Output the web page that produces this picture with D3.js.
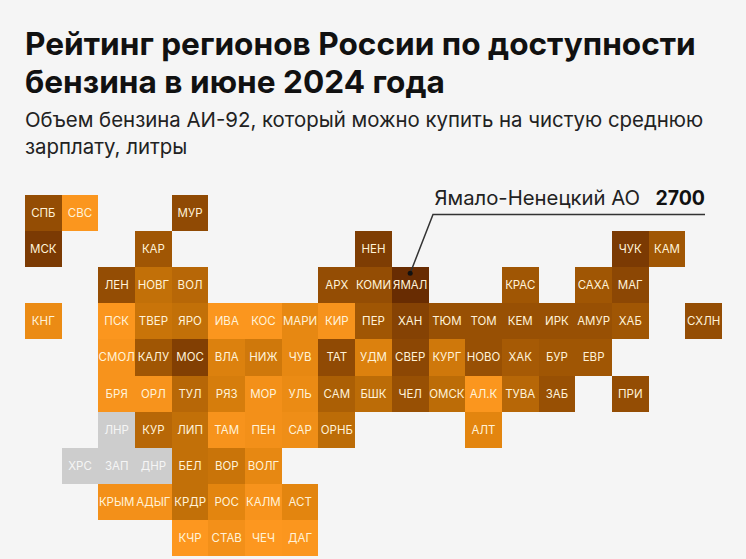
<!DOCTYPE html>
<html>
<head>
<meta charset="utf-8">
<script src="https://cdn.jsdelivr.net/npm/d3@7"></script>
<style>
  html, body { margin: 0; padding: 0; background: #f5f5f5; }
  svg { display: block; font-family: Inter, Roboto, sans-serif; }
</style>
</head>
<body>
<div id="chart"></div>
<script>
// grid rows, top to bottom: region code, grid column, litres (null = no data)
const row0 = ['СПБ', 'СВС', 'МУР'];
const row0Cols = [0, 1, 4];
const row0Vals = [2000, 1000, 2050];

const row1 = ['МСК', 'КАР', 'НЕН', 'ЧУК', 'КАМ'];
const row1Cols = [0, 3, 9, 16, 17];
const row1Vals = [2350, 1850, 2300, 2350, 1850];

const row2 = ['ЛЕН', 'НОВГ', 'ВОЛ', 'АРХ', 'КОМИ', 'ЯМАЛ', 'КРАС', 'САХА', 'МАГ'];
const row2Cols = [2, 3, 4, 8, 9, 10, 13, 15, 16];
const row2Vals = [2000, 1550, 1650, 2000, 2000, 2700, 1850, 1850, 2100];

const row3 = ['КНГ', 'ПСК', 'ТВЕР', 'ЯРО', 'ИВА', 'КОС', 'МАРИ', 'КИР', 'ПЕР', 'ХАН', 'ТЮМ', 'ТОМ', 'КЕМ', 'ИРК', 'АМУР', 'ХАБ', 'СХЛН'];
const row3Cols = [0, 2, 3, 4, 5, 6, 7, 8, 9, 10, 11, 12, 13, 14, 15, 16, 18];
const row3Vals = [1200, 1000, 1500, 1550, 1000, 1000, 1250, 1050, 1850, 2200, 1950, 1950, 1950, 1950, 1950, 1850, 2000];

const row4 = ['СМОЛ', 'КАЛУ', 'МОС', 'ВЛА', 'НИЖ', 'ЧУВ', 'ТАТ', 'УДМ', 'СВЕР', 'КУРГ', 'НОВО', 'ХАК', 'БУР', 'ЕВР'];
const row4Cols = [2, 3, 4, 5, 6, 7, 8, 9, 10, 11, 12, 13, 14, 15];
const row4Vals = [1050, 1850, 2250, 1350, 1450, 1250, 2050, 1350, 2100, 1450, 1950, 1800, 1850, 1850];

const row5 = ['БРЯ', 'ОРЛ', 'ТУЛ', 'РЯЗ', 'МОР', 'УЛЬ', 'САМ', 'БШК', 'ЧЕЛ', 'ОМСК', 'АЛ.К', 'ТУВА', 'ЗАБ', 'ПРИ'];
const row5Cols = [2, 3, 4, 5, 6, 7, 8, 9, 10, 11, 12, 13, 14, 16];
const row5Vals = [1050, 1050, 1650, 1400, 1100, 1200, 1750, 1600, 1950, 1600, 1000, 1650, 1950, 2000];

const row6 = ['ЛНР', 'КУР', 'ЛИП', 'ТАМ', 'ПЕН', 'САР', 'ОРНБ', 'АЛТ'];
const row6Cols = [2, 3, 4, 5, 6, 7, 8, 12];
const row6Vals = [null, 1650, 1550, 1050, 1100, 1150, 1600, 1300];

const row7 = ['ХРС', 'ЗАП', 'ДНР', 'БЕЛ', 'ВОР', 'ВОЛГ'];
const row7Cols = [1, 2, 3, 4, 5, 6];
const row7Vals = [null, null, null, 1550, 1500, 1250];

const row8 = ['КРЫМ', 'АДЫГ', 'КРДР', 'РОС', 'КАЛМ', 'АСТ'];
const row8Cols = [2, 3, 4, 5, 6, 7];
const row8Vals = [1100, 1100, 1550, 1300, 1050, 1300];

const row9 = ['КЧР', 'СТАВ', 'ЧЕЧ', 'ДАГ'];
const row9Cols = [4, 5, 6, 7];
const row9Vals = [980, 1100, 980, 1000];

const titleLines = ['Рейтинг регионов России по доступности', 'бензина в июне 2024 года'];
const subtitleLines = ['Объем бензина АИ-92, который можно купить на чистую среднюю', 'зарплату, литры'];
const calloutRegion = 'ЯМАЛ';
const calloutName = 'Ямало-Ненецкий АО';
const calloutValue = '2700';

const rows = [
  [row0, row0Cols, row0Vals], [row1, row1Cols, row1Vals], [row2, row2Cols, row2Vals],
  [row3, row3Cols, row3Vals], [row4, row4Cols, row4Vals], [row5, row5Cols, row5Vals],
  [row6, row6Cols, row6Vals], [row7, row7Cols, row7Vals], [row8, row8Cols, row8Vals],
  [row9, row9Cols, row9Vals]
];
const cells = rows.flatMap((r, i) => r[0].map((code, j) => ({
  code: code, col: r[1][j], row: i, value: r[2][j]
})));

const width = 746, height = 559;

const x = d3.scaleBand().domain(d3.range(19)).range([25, 722]).padding(0);
const y = d3.scaleBand().domain(d3.range(10)).range([195, 556]).padding(0);

const color = d3.scaleLinear()
    .domain([1000, 1300, 1550, 1850, 2100, 2350, 2700])
    .range(['#fb961e', '#e3850f', '#c27008', '#a05604', '#8c4704', '#7b3a03', '#682c02']);

const svg = d3.select('#chart').append('svg')
    .attr('width', width)
    .attr('height', height);

svg.append('rect')
    .attr('width', width)
    .attr('height', height)
    .attr('fill', '#f5f5f5');

// Title block
svg.selectAll('.title')
    .data(titleLines)
    .enter().append('text')
    .attr('class', 'title')
    .attr('x', 25)
    .attr('y', (d, i) => 55 + i * 37.5)
    .attr('font-size', 31.6)
    .attr('font-weight', 700)
    .attr('fill', '#111')
    .text(d => d);

svg.selectAll('.subtitle')
    .data(subtitleLines)
    .enter().append('text')
    .attr('class', 'subtitle')
    .attr('x', 25)
    .attr('y', (d, i) => 127 + i * 27)
    .attr('font-size', 20.4)
    .attr('fill', '#222')
    .text(d => d);

// Tile grid
svg.selectAll('.cell')
    .data(cells)
    .enter().append('rect')
    .attr('class', 'cell')
    .attr('x', d => x(d.col))
    .attr('y', d => y(d.row))
    .attr('width', x.bandwidth())
    .attr('height', y.bandwidth())
    .attr('shape-rendering', 'crispEdges')
    .attr('fill', d => d.value === null ? '#cdcdcd' : color(d.value));

svg.selectAll('.code')
    .data(cells)
    .enter().append('text')
    .attr('class', 'code')
    .attr('x', d => x(d.col) + x.bandwidth() / 2)
    .attr('y', d => y(d.row) + y.bandwidth() / 2 + 4)
    .attr('text-anchor', 'middle')
    .attr('font-size', 11.5)
    .attr('fill', d => d.value === null ? '#f5f5f5' : '#fff2d8')
    .text(d => d.code);

// Callout
const target = cells.find(d => d.code === calloutRegion);
const dotX = x(target.col) + x.bandwidth() / 2;
const dotY = y(target.row) + 6;

svg.append('path')
    .attr('d', d3.line()([[705, 214.5], [433, 214.5], [dotX, dotY]]))
    .attr('fill', 'none')
    .attr('stroke', '#333')
    .attr('stroke-width', 1.5);

svg.append('circle')
    .attr('cx', dotX)
    .attr('cy', dotY)
    .attr('r', 2.5)
    .attr('fill', '#111');

svg.append('text')
    .attr('x', 640)
    .attr('y', 205)
    .attr('text-anchor', 'end')
    .attr('font-size', 20.3)
    .attr('fill', '#222')
    .text(calloutName);

svg.append('text')
    .attr('x', 705)
    .attr('y', 205)
    .attr('text-anchor', 'end')
    .attr('font-size', 19.5)
    .attr('font-weight', 700)
    .attr('fill', '#111')
    .text(calloutValue);
</script>
</body>
</html>
